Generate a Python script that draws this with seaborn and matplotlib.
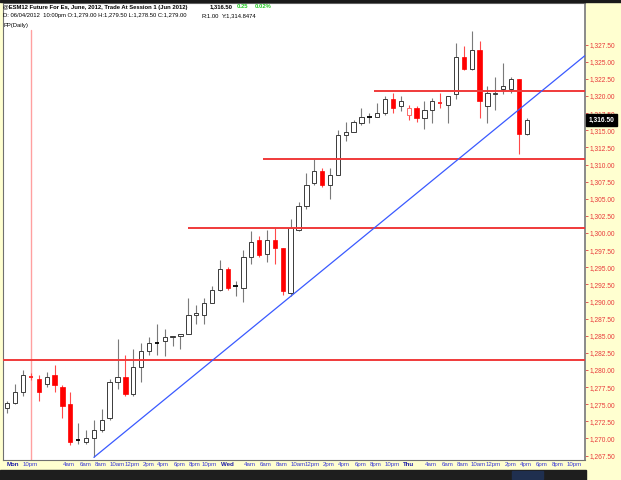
import matplotlib
matplotlib.use("Agg")
import matplotlib.pyplot as plt
from matplotlib.patches import Rectangle
import numpy as np
import pandas as pd
import seaborn as sns

# ---------------- data (hourly ES candles) ----------------
opens = [1274.50, 1275.25, 1276.75, 1279.00, 1278.75, 1278.00, 1279.25, 1277.50, 1275.00, 1269.75,
         1269.50, 1270.00, 1271.25, 1273.00, 1278.25, 1279.00, 1276.50, 1280.50, 1282.75, 1284.00,
         1284.25, 1284.75, 1285.00, 1285.25, 1288.00, 1288.00, 1289.75, 1291.75, 1294.75, 1292.25,
         1292.00, 1296.50, 1299.00, 1297.00, 1299.00, 1297.75, 1291.25, 1300.50, 1304.00, 1307.25,
         1309.00, 1307.00, 1308.50, 1314.25, 1314.75, 1316.00, 1317.00, 1317.00, 1317.50, 1319.50,
         1318.50, 1317.25, 1318.25, 1316.75, 1318.00, 1319.00, 1318.75, 1320.25, 1325.75, 1324.00,
         1326.75, 1318.50, 1320.25, 1321.00, 1321.00, 1322.50, 1314.50]
highs = [1275.50, 1278.00, 1280.00, 1279.50, 1279.25, 1279.75, 1280.75, 1277.75, 1276.75, 1272.25,
         1271.25, 1272.75, 1274.25, 1278.75, 1284.50, 1282.25, 1283.00, 1284.00, 1284.75, 1286.75,
         1286.00, 1285.00, 1285.25, 1290.50, 1289.50, 1290.50, 1292.25, 1296.00, 1295.00, 1293.00,
         1297.50, 1300.25, 1299.50, 1300.50, 1300.75, 1297.75, 1302.00, 1304.50, 1308.75, 1310.75,
         1309.50, 1309.50, 1315.00, 1316.25, 1316.50, 1318.25, 1317.50, 1319.00, 1320.00, 1320.50,
         1320.00, 1318.75, 1318.50, 1319.25, 1319.75, 1320.50, 1320.00, 1327.75, 1327.25, 1329.50,
         1328.00, 1321.50, 1322.75, 1324.75, 1322.75, 1322.50, 1316.75]
lows = [1273.75, 1275.00, 1276.25, 1278.50, 1275.50, 1277.50, 1276.75, 1273.00, 1269.00, 1269.25,
        1269.25, 1267.25, 1271.00, 1272.75, 1277.25, 1276.25, 1276.25, 1278.25, 1282.25, 1282.25,
        1282.00, 1283.50, 1283.00, 1285.25, 1286.75, 1286.75, 1289.75, 1291.50, 1291.75, 1290.75,
        1290.00, 1295.50, 1296.50, 1295.75, 1295.50, 1291.00, 1290.75, 1300.25, 1303.50, 1307.00,
        1306.75, 1305.00, 1308.50, 1313.50, 1314.75, 1315.75, 1316.00, 1317.00, 1317.25, 1317.50,
        1317.75, 1316.50, 1316.25, 1315.25, 1316.00, 1318.25, 1316.00, 1319.50, 1323.75, 1323.75,
        1316.75, 1316.00, 1318.00, 1320.25, 1320.50, 1311.50, 1314.25]
closes = [1275.25, 1276.75, 1279.25, 1279.00, 1276.75, 1279.00, 1277.75, 1274.75, 1269.50, 1269.75,
          1270.00, 1271.25, 1272.75, 1278.25, 1279.00, 1276.50, 1280.50, 1282.75, 1284.00, 1284.00,
          1284.75, 1285.00, 1285.25, 1288.00, 1288.25, 1289.75, 1291.75, 1294.75, 1292.00, 1292.25,
          1296.50, 1298.75, 1296.75, 1299.00, 1297.75, 1291.50, 1300.75, 1304.00, 1307.00, 1309.00,
          1307.00, 1308.50, 1314.25, 1314.75, 1316.25, 1317.00, 1317.00, 1317.50, 1319.50, 1318.25,
          1319.25, 1318.25, 1316.75, 1318.00, 1319.25, 1319.00, 1320.00, 1325.75, 1324.00, 1326.75,
          1319.25, 1320.50, 1320.50, 1321.50, 1322.50, 1314.50, 1316.50]

x_tick_labels = ["Mon", "10pm", "4am", "6am", "8am", "10am", "12pm", "2pm", "4pm", "6pm", "8pm", "10pm",
                 "Wed", "4am", "6am", "8am", "10am", "12pm", "2pm", "4pm", "6pm", "8pm", "10pm",
                 "Thu", "4am", "6am", "8am", "10am", "12pm", "2pm", "4pm", "6pm", "8pm", "10pm"]
x_tick_pos = [0.7, 2.9, 7.85, 9.9, 11.9, 13.9, 15.85, 17.9, 19.8, 21.9, 23.85, 25.6,
              28.0, 30.85, 32.8, 34.85, 36.9, 38.75, 40.8, 42.8, 44.85, 46.85, 48.9,
              51.0, 53.85, 55.9, 57.85, 59.8, 61.75, 63.95, 65.9, 67.85, 69.9, 72.0]
day_labels = ["Mon", "Wed", "Thu"]

pivot_levels = [1281.50, 1300.75, 1310.75, 1320.75]
pivot_starts = [-0.55, 22.95, 32.45, 46.65]

trend_idx = [11, 36]
trend_price = [1267.25, 1290.75]

cursor_idx = 3
last_price = 1316.50

# ---------------- figure ----------------
W, H = 621, 480
sns.set_theme(style="white")
plt.rcParams['font.family'] = ['Liberation Sans', 'DejaVu Sans']

BG = '#FFFFD0'
fig = plt.figure(figsize=(W / 100, H / 100), dpi=100, facecolor=BG)
L, R, T, B = 3, 585, 3, 460
ax = fig.add_axes([L / W, 1 - B / H, (R - L) / W, (B - T) / H])
ax.set_facecolor('white')
XLIM = (-0.55, 73.4)
YLIM = (1266.86, 1333.58)

df = pd.DataFrame({"o": opens, "h": highs, "l": lows, "c": closes})
df["i"] = np.arange(len(df))
prev = df["c"].shift(1).fillna(df["o"])
df["down"] = df["c"] < prev
df["hollow"] = df["c"] > df["o"]
df["doji"] = df["c"] == df["o"]

BW = 0.55
for _, r in df.iterrows():
    wick = '#FF4A4A' if r.down else '#7A7A7A'
    ax.vlines(r.i, r.l, r.h, color=wick, lw=0.8, zorder=2)
    if r.doji:
        col = '#FF2020' if r.down else '#000000'
        ax.hlines(r.c, r.i - BW / 2, r.i + BW / 2, color=col, lw=1.3, zorder=3)
    elif r.hollow:
        edge = '#FF6A6A' if r.down else '#3A3A3A'
        ax.bar(r.i, r.c - r.o, bottom=r.o, width=BW, facecolor='white',
               edgecolor=edge, linewidth=0.7, zorder=3)
    else:
        col = '#FF0000' if r.down else '#000000'
        ax.bar(r.i, r.o - r.c, bottom=r.c, width=BW, facecolor=col,
               edgecolor=col, linewidth=0.5, zorder=3)

# pivot (PP daily) lines
for lvl, st in zip(pivot_levels, pivot_starts):
    ax.hlines(lvl, st, XLIM[1], color='#F03A3A', lw=1.4, zorder=4)

# trend line (extended to the right edge)
slope = (trend_price[1] - trend_price[0]) / (trend_idx[1] - trend_idx[0])
tl = pd.DataFrame({"x": [trend_idx[0], XLIM[1]],
                   "y": [trend_price[0], trend_price[0] + slope * (XLIM[1] - trend_idx[0])]})
sns.lineplot(data=tl, x="x", y="y", ax=ax, color='#3A5AFF', lw=0.9, zorder=5)

# cursor line
ax.axvline(cursor_idx, ymin=0, ymax=(B - 30) / (B - T), color='#FFA0A0', lw=1.0, zorder=1)

ax.set_xlim(*XLIM)
ax.set_ylim(*YLIM)
ax.set_xlabel("")
ax.set_ylabel("")

# y axis on the right
ax.yaxis.tick_right()
yt = np.arange(1267.5, 1330.0, 2.5)
ax.set_yticks(yt)
ax.set_yticklabels([f"{t:,.2f}" for t in yt])
ax.tick_params(axis='y', right=True, left=False, length=2.5, width=0.6, color='#E04040',
               labelcolor='#E83A3A', labelsize=4.8, pad=0.8)

# x axis
ax.set_xticks(x_tick_pos)
ax.set_xticklabels(x_tick_labels)
ax.tick_params(axis='x', bottom=False, length=0, labelsize=4.4, labelcolor='#3A3AD8', pad=1.4)
for lbl in ax.get_xticklabels():
    if lbl.get_text() in day_labels:
        lbl.set_fontweight('bold')
        lbl.set_color('#1C1CA8')

for s in ['left', 'top', 'bottom']:
    ax.spines[s].set_color('#707070')
    ax.spines[s].set_linewidth(0.8)
ax.spines['right'].set_color('#8A8A8A')
ax.spines['right'].set_linewidth(1.4)

# last price box
ax.annotate(f"{last_price:,.2f}", xy=(1.0, last_price), xycoords=('axes fraction', 'data'),
            xytext=(2.5, 0), textcoords='offset points', ha='left', va='center',
            fontsize=4.8, color='white', fontweight='bold', zorder=10, annotation_clip=False,
            bbox=dict(boxstyle='square,pad=0.35', fc='black', ec='black'))

# header text
def ftxt(x, y, s, **kw):
    fig.text(x / W, 1 - y / H, s, va='center', ha='left', **kw)

FS = 4.2
ftxt(3, 7, "@ESM12 Future For Es, June, 2012, Trade At Session 1 (Jun 2012)", fontsize=FS,
     fontweight='bold', color='black')
ftxt(210, 7, "1,316.50", fontsize=FS, fontweight='bold', color='black')
ftxt(237, 7, "0.25", fontsize=FS, fontweight='bold', color='#22C822')
ftxt(255, 7, "0.02%", fontsize=FS, fontweight='bold', color='#22C822')
ftxt(3, 16, "D: 06/04/2012  10:00pm O:1,279.00 H:1,279.50 L:1,278.50 C:1,279.00",
     fontsize=FS, color='black')
ftxt(201, 16, "R:1.00", fontsize=FS, color='black')
ftxt(222, 16, "Y:1,314.8474", fontsize=FS, color='black')
ftxt(3, 25, "PP(Daily)", fontsize=FS, color='black')

# frame bars
fig.patches.append(Rectangle((0, 1 - 2 / H), 1, 2 / H, transform=fig.transFigure,
                             color='#1A1A1A', zorder=0))
fig.patches.append(Rectangle((0, 0), 586 / W, 10 / H, transform=fig.transFigure,
                             color='#1E1E1E', zorder=0))
fig.patches.append(Rectangle((512 / W, 1 / H), 31 / W, 8 / H, transform=fig.transFigure,
                             color='#1F2F4F', zorder=1))

fig.savefig("out.png", dpi=100, facecolor=BG)
